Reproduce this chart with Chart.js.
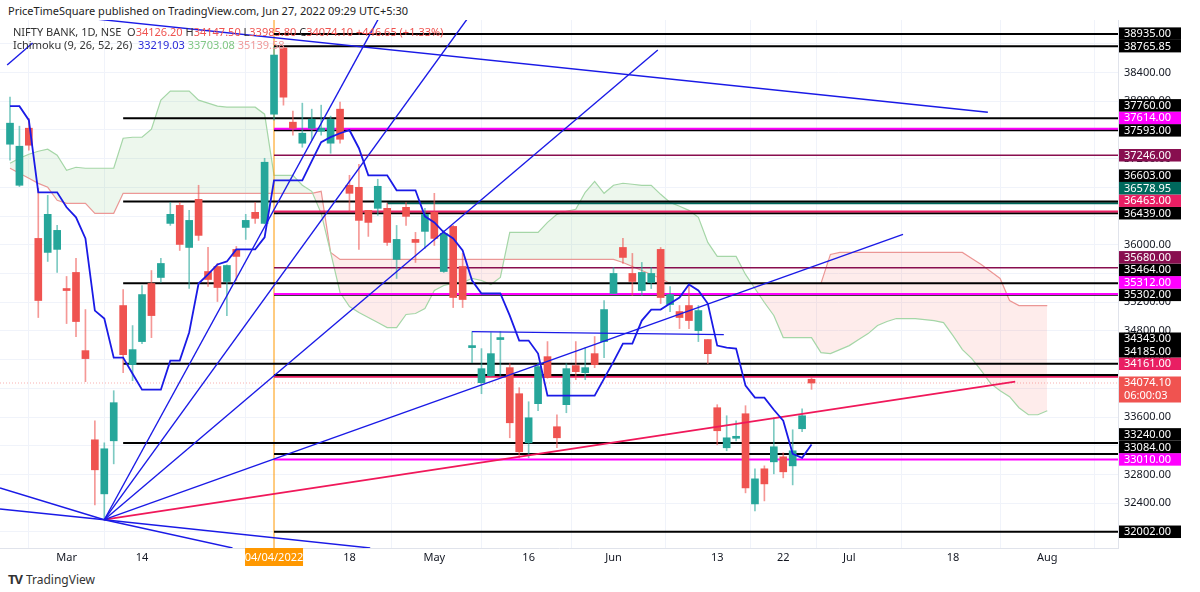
<!DOCTYPE html>
<html lang="en">
<head>
<meta charset="UTF-8">
<title>NIFTY BANK 1D</title>
<script src="https://cdn.jsdelivr.net/npm/chart.js"></script>
<style>
  body { margin: 0; background: #fff; font-family: "Noto Sans", "DejaVu Sans", sans-serif; }
  #top { position: absolute; left: 8px; top: 3px; font-size: 11px; color: #222; }
  #wrap { position: absolute; left: 0; top: 20px; width: 1192px; height: 548px; }
  .leg { position: absolute; left: 13px; font-size: 11px; color: #333; white-space: nowrap; }
  #foot { position: absolute; left: 8px; top: 570px; font-size: 12px; color: #333; }
  #foot b { font-size: 13px; letter-spacing: -1px; margin-right: 4px; }
</style>
</head>
<body>
<div id="top">PriceTimeSquare published on TradingView.com, Jun 27, 2022 09:29 UTC+5:30</div>
<div id="wrap"><canvas id="c"></canvas></div>
<div class="leg" style="top:24px">NIFTY BANK, 1D, NSE&nbsp; O<span style="color:#ef5350">34126.20</span> H<span style="color:#ef5350">34147.50</span> L<span style="color:#ef5350">33985.80</span> C<span style="color:#ef5350">34074.10</span> <span style="color:#ef5350">+446.65 (+1.33%)</span></div>
<div class="leg" style="top:37px">Ichimoku (9, 26, 52, 26)&nbsp; <span style="color:#2a2ad8">33219.03</span> <span style="color:#81c784">33703.08</span> <span style="color:#ef9a9a">35139.58</span></div>
<div id="foot"><b>TV</b>TradingView</div>
<script>
// daily candles, bar index 0 = first visible session
const opens  = [37400,36828,37623,36088,35893,35935,35390,35614,34525,33283,32530,33269,35153,34330,34651,35460,35544,36297,36548,35962,36632,35627,35697,35488,35935,36241,36451,36297,37818,38740,37707,37414,37623,37581,37414,37888,36828,36800,36479,36507,36507,35795,36521,36074,36186,36451,35627,36255,35697,34567,34079,34176,34679,34288,33925,33241,33786,34441,33465,33772,34316,34218,34483,34651,35321,35962,35600,35362,35474,35935,35167,35069,35153,34804,34679,33730,33172,33304,33646,32390,32879,32976,33046,32920,33437,34126.2];
const highs  = [38055,37651,37762,36786,36688,36269,35558,35809,35097,33548,33241,33967,35376,34874,35432,35641,35809,36590,36590,36479,36828,35962,35739,35720,35976,36423,36590,37204,38753,38753,37860,37972,37888,37944,37791,37986,36967,37121,36479,36912,36577,36269,36590,36172,36507,36716,36200,36269,35879,34790,34553,34776,34790,34344,34009,33813,34358,34651,33632,34344,34651,34567,34721,35223,35683,36088,35879,35753,35683,35962,35418,35153,35432,35153,34679,33772,33618,33548,33758,32879,32920,33590,33102,33423,33716,34147.5];
const lows   = [37177,36810,37316,34986,35767,35614,34902,34721,34093,32376,32170,32948,34218,34106,34623,34706,35474,36269,35920,35390,36060,35418,35209,35013,35502,36074,36297,36290,37735,37944,37526,37358,37456,37526,37274,37414,36465,35935,36116,36409,35990,35530,36269,35753,35948,35990,35614,35125,35125,34358,33925,34170,34170,33311,33032,33032,33688,34140,33172,33660,34120,34120,34288,34427,35321,35739,35293,35293,35390,35181,35069,34832,34832,34651,34344,33213,33130,33269,32544,32293,32432,32809,32753,32655,33395,33985.8];
const closes = [37693,37372,37386,35223,36423,36200,35362,34930,34414,32865,33158,33800,34469,34539,35306,35013,35739,36423,36004,36339,36130,35516,35404,35711,35837,36339,36367,37149,38642,38055,37623,37553,37749,37623,37749,37469,36716,36339,36311,36814,36032,36074,36395,36032,36423,36088,36158,35265,35237,34595,34274,34483,34692,33520,33116,33590,34302,34148,33311,34274,34232,34288,34330,35097,35600,35823,35488,35614,35600,35265,35306,34986,34944,35083,34483,33409,33311,33318,32613,32739,32669,33186,32837,33130,33618,34074.1];

// Ichimoku
const tenkan = [37930,37930,37735,36730,36730,36730,36521,36381,36088,35083,34972,34428,34428,34204,33981,33981,33981,34386,34386,34777,35460,35586,35725,35767,35935,35935,35935,36102,36897,36897,36897,36897,37163,37428,37498,37553,37595,37344,36967,36967,36967,36758,36758,36758,36395,36311,36172,36088,35921,35502,35321,35321,35321,35013,34665,34665,34484,33897,33897,33897,33897,33897,33897,34135,34372,34623,34623,34944,35097,35097,35181,35265,35446,35363,35181,34595,34567,34553,34037,33870,33870,33702,33548,33088,33032,33219];
const spanA = [37135,37205,37260,37302,37330,37246,37037,37079,37065,37065,37065,37065,37483,37497,37497,37609,38014,38139,38139,38139,38014,37972,37930,37916,37916,37916,37916,37818,36967,36967,36967,36828,36744,36437,35893,35335,35139,35056,34986,34916,34846,34846,35028,35042,35111,35362,35432,35460,35474,35530,35502,35446,35544,36172,36172,36172,36172,36311,36423,36465,36493,36730,36883,36716,36828,36856,36842,36828,36828,36702,36590,36535,36479,36381,36032,35837,35837,35837,35586,35390,35195,35014,34707,34707,34707,34707,34497,34483,34539,34595,34679,34762,34874,34930,34972,34972,34972,34958,34944,34916,34735,34539,34414,34246,34065,33967,33883,33730,33632,33632,33688];
const spanB = [37065,36995,36925,36855,36800,36618,36576,36576,36576,36437,36437,36437,36716,36716,36716,36716,36716,36716,36716,36716,36716,36716,36716,36716,36716,36716,36716,36716,36716,36716,36716,36716,36716,36744,35893,35795,35795,35795,35795,35795,35795,35795,35795,35795,35795,35795,35795,35795,35795,35795,35795,35795,35795,35795,35795,35795,35795,35795,35795,35795,35795,35795,35795,35795,35795,35753,35697,35641,35586,35530,35460,35460,35460,35460,35460,35460,35460,35460,35460,35460,35460,35460,35460,35460,35460,35460,35460,35865,35893,35893,35893,35893,35893,35893,35893,35893,35893,35893,35893,35893,35893,35893,35809,35725,35628,35530,35223,35153,35153,35153,35153];

// horizontal levels: price, kind, first bar
const levelPrices = [38935,38765.85,37760,37614,37593,37246,36603,36578.95,36463,36439,35680,35464,35312,35302,34343,34185,34161,33240,33084,33010,32002];
const levelKinds  = ['k','k','k','m','k','p','k','t','r','k','p','k','m','k','k','k','r','k','k','m','k'];
const levelStart  = [28,28,12,28,28,28,12,40,28,28,28,12,28,28,12,28,28,12,28,28,28];
const lastPrice = 34074.10;
const countdown = '06:00:03';

// trend drawings as [bar, price] points
const trendBlue = [
  [[-1.06,39283],[103.7,37846]],
  [[-0.3,38502],[2.4,38809]],
  [[10,32170],[40,39370]],
  [[10,32170],[51,39600]],
  [[10,32170],[68.7,38712]],
  [[10,32170],[94.7,36144]],
  [[-1.06,32613],[10,32170],[23.6,31776]],
  [[-1.06,32320],[10,32170],[38.2,31776]],
  [[49,34790],[75.7,34748]]
];
const trendRed = [[10,32170],[106.6,34093]];
const markerBar = 28;

const tickBars   = [6,14,36,45,55,64,75,82,89,100,110];
const tickLabels = ['Mar','14','18','May','16','Jun','13','22','Jul','18','Aug'];
const markerLabel = '04/04/2022';

const X_MIN = -1.06, X_MAX = 117.5, Y_MIN = 31776, Y_MAX = 39130;
const UP = '#26a69a', DOWN = '#ef5350';
const kindColor = { k: '#000000', m: '#ff00ff', p: '#880e4f', t: '#00695c', r: '#e91e63' };

const idx = opens.map((_, i) => i);
const isUp = idx.map(i => closes[i] >= opens[i]);
const pts = arr => arr.map((v, i) => ({ x: i, y: v }));
const seg = p => p.map(q => ({ x: q[0], y: q[1] }));

const datasets = [];
const line = (data, color, width, order, extra) => Object.assign({
  type: 'line', data, borderColor: color, borderWidth: width, pointRadius: 0, order, fill: false, tension: 0
}, extra || {});

datasets.push(line(pts(spanA), '#a5d6a7', 1.2, 20, {
  fill: { target: '+1', above: 'rgba(76,175,80,0.10)', below: 'rgba(244,67,54,0.10)' }
}));
datasets.push(line(pts(spanB), '#ef9a9a', 1.2, 21));

levelPrices.forEach((p, i) => {
  const k = levelKinds[i];
  datasets.push(line([{ x: levelStart[i], y: p }, { x: X_MAX, y: p }], kindColor[k], k === 'p' ? 1.5 : 2, 8));
});
datasets.push(line([{ x: X_MIN, y: lastPrice }, { x: X_MAX, y: lastPrice }], 'rgba(239,83,80,0.45)', 1, 9, { borderDash: [1, 2] }));
datasets.push(line([{ x: markerBar, y: Y_MIN }, { x: markerBar, y: Y_MAX }], '#ff9800', 1, 9));

datasets.push({
  type: 'bar', data: idx.map(i => ({ x: i, y: [lows[i], highs[i]] })),
  backgroundColor: idx.map(i => isUp[i] ? 'rgba(38,166,154,0.6)' : 'rgba(239,83,80,0.6)'),
  barThickness: 1, grouped: false, order: 4
});
datasets.push({
  type: 'bar', data: idx.map(i => ({ x: i, y: [opens[i], closes[i]] })),
  backgroundColor: idx.map(i => isUp[i] ? UP : DOWN),
  barThickness: 7, minBarLength: 2, grouped: false, order: 3
});

datasets.push(line(pts(tenkan), '#1a1ae6', 1.8, 1));
trendBlue.forEach(t => datasets.push(line(seg(t), '#1a1ae6', 1.4, 1)));
datasets.push(line(seg(trendRed), '#f0185a', 1.8, 1));

// right-axis labels, stacked upward where they collide
const priceLabels = {
  id: 'priceLabels',
  afterDraw(chart) {
    const { ctx, chartArea, scales } = chart;
    const y = scales.y, x0 = chartArea.right + 1, w = 62, h = 12.5;
    const last = { y: y.getPixelForValue(lastPrice), h: 26 };
    const items = levelPrices.map((p, i) => ({
      p, text: p.toFixed(2), bg: kindColor[levelKinds[i]], y: y.getPixelForValue(p)
    })).sort((a, b) => b.y - a.y);
    let limit = Infinity;
    items.forEach(it => {
      if (it.y < last.y + last.h / 2 + h / 2 && it.y > last.y - last.h / 2 - h / 2 && it.p > lastPrice) {
        limit = Math.min(limit, last.y - last.h / 2 - h / 2);
      }
      it.y = Math.min(it.y, limit);
      limit = it.y - h;
    });
    ctx.save();
    ctx.font = '11px "Noto Sans", sans-serif';
    ctx.textBaseline = 'middle';
    ctx.textAlign = 'left';
    items.forEach(it => {
      ctx.fillStyle = it.bg;
      ctx.fillRect(x0, it.y - h / 2, w, h);
      ctx.fillStyle = '#fff';
      ctx.fillText(it.text, x0 + 5, it.y + 0.5);
    });
    ctx.fillStyle = '#f05350';
    ctx.fillRect(x0, last.y - 6.5, w, last.h);
    ctx.fillStyle = '#fff';
    ctx.fillText(lastPrice.toFixed(2), x0 + 5, last.y);
    ctx.fillText(countdown, x0 + 5, last.y + 12.5);
    // date marker on the time axis
    const mx = scales.x.getPixelForValue(markerBar);
    ctx.fillStyle = '#ff9800';
    ctx.fillRect(mx - 29, chartArea.bottom, 58, 18);
    ctx.fillStyle = '#fff';
    ctx.textAlign = 'center';
    ctx.fillText(markerLabel, mx, chartArea.bottom + 9.5);
    ctx.restore();
  }
};

new Chart(document.getElementById('c'), {
  type: 'bar',
  data: { datasets },
  plugins: [priceLabels],
  options: {
    responsive: true, maintainAspectRatio: false, animation: false,
    plugins: { legend: { display: false }, tooltip: { enabled: false } },
    layout: { padding: 0 },
    scales: {
      x: {
        type: 'linear', min: X_MIN, max: X_MAX, offset: false,
        afterBuildTicks: s => { s.ticks = tickBars.map(v => ({ value: v })); },
        afterFit: s => { s.height = 20; },
        ticks: {
          autoSkip: false, maxRotation: 0, color: '#131722', font: { size: 11, family: 'Noto Sans' },
          callback: v => tickLabels[tickBars.indexOf(v)] || ''
        },
        grid: { color: '#f0f3fa', drawTicks: false },
        border: { color: '#e0e3eb' }
      },
      y: {
        position: 'right', min: Y_MIN, max: Y_MAX,
        afterFit: s => { s.width = 74; s.paddingTop = 0; s.paddingBottom = 0; },
        afterBuildTicks: s => {
          const t = [];
          for (let v = 32000; v <= 38800; v += 400) t.push({ value: v });
          s.ticks = t;
        },
        ticks: { color: '#131722', padding: 6, font: { size: 11, family: 'Noto Sans' }, callback: v => v.toFixed(2) },
        grid: { color: '#f0f3fa', drawTicks: false },
        border: { color: '#e0e3eb' }
      }
    }
  }
});
</script>
</body>
</html>
